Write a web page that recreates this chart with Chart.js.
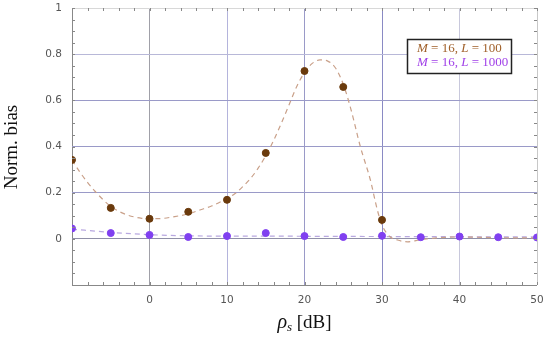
<!DOCTYPE html>
<html>
<head>
  <meta charset="UTF-8">
  <title>Norm. bias vs rho_s</title>
  <script src="https://cdn.jsdelivr.net/npm/chart.js"></script>
  <style>
    html, body { margin: 0; padding: 0; background: #fff; }
    #wrap { width: 550px; height: 344px; }
  </style>
</head>
<body>
  <div id="wrap"><canvas id="chart" width="550" height="344"></canvas></div>
  <script>
    // measured points
    const rhoL100 = [-10, -5, 0, 5, 10, 15, 20, 25, 30];
    const biasL100 = [0.342, 0.134, 0.087, 0.117, 0.169, 0.372, 0.727, 0.658, 0.082];
    const rhoL1000 = [-10, -5, 0, 5, 10, 15, 20, 25, 30, 35, 40, 45, 50];
    const biasL1000 = [0.045, 0.025, 0.017, 0.008, 0.012, 0.025, 0.012, 0.008, 0.013, 0.007, 0.010, 0.007, 0.006];

    // dashed fitted curves
    const fitRho100 = [-10, -9, -8, -7, -6, -5, -4, -3, -2, -1, 0, 1.5, 3, 5, 6.5, 8, 10, 11, 12, 13, 14, 15, 16, 17, 18, 19, 20, 21, 22, 23, 24, 25, 26, 27.2, 28.5, 29.4, 30, 31, 32, 33.3, 35, 37, 40, 45, 50];
    const fitBias100 = [0.342, 0.29, 0.245, 0.205, 0.17, 0.14, 0.12, 0.105, 0.095, 0.089, 0.087, 0.088, 0.095, 0.108, 0.125, 0.142, 0.175, 0.195, 0.225, 0.26, 0.305, 0.36, 0.425, 0.5, 0.58, 0.66, 0.72, 0.76, 0.775, 0.77, 0.74, 0.67, 0.56, 0.40, 0.255, 0.125, 0.06, 0.01, -0.005, -0.013, -0.004, 0.004, 0.008, 0.005, 0.004];
    const fitRho1000 = [-10, -5, 0, 5, 10, 15, 20, 30, 40, 50];
    const fitBias1000 = [0.042, 0.028, 0.018, 0.013, 0.012, 0.012, 0.011, 0.010, 0.009, 0.008];

    const xTicks = [-10, 0, 10, 20, 30, 40, 50];
    const yTicks = [-0.2, 0, 0.2, 0.4, 0.6, 0.8, 1];
    const legendLabels = ['M = 16, L = 100', 'M = 16, L = 1000'];

    const zip = (xs, ys) => xs.map((x, i) => ({ x, y: ys[i] }));

    // legend box + axis titles drawn on the canvas
    const decorations = {
      id: 'decorations',
      afterDraw(chart) {
        const ctx = chart.ctx;
        const area = chart.chartArea;
        ctx.save();

        // legend box
        ctx.fillStyle = '#fff';
        ctx.fillRect(407, 39, 104, 34);
        ctx.strokeStyle = '#222';
        ctx.lineWidth = 1.5;
        ctx.strokeRect(407.5, 39.5, 104, 34);
        const colors = ['#a0602a', '#a040e8'];
        legendLabels.forEach((txt, i) => {
          ctx.fillStyle = colors[i];
          let x = 417;
          const y = 52 + i * 14;
          ctx.textBaseline = 'alphabetic';
          // italic letters for M and L
          txt.split(/(M|L)/).forEach(part => {
            if (!part) return;
            ctx.font = (part === 'M' || part === 'L' ? 'italic ' : '') + '13px "Liberation Serif"';
            ctx.fillText(part, x, y);
            x += ctx.measureText(part).width;
          });
        });

        // y title
        ctx.fillStyle = '#111';
        ctx.font = '19px "Liberation Serif"';
        ctx.translate(12, 147);
        ctx.rotate(-Math.PI / 2);
        ctx.textAlign = 'center';
        ctx.textBaseline = 'middle';
        ctx.fillText('Norm. bias', 0, 0);
        ctx.setTransform(1, 0, 0, 1, 0, 0);

        // x title: rho_s [dB]
        const cx = (area.left + area.right) / 2;
        ctx.textAlign = 'left';
        ctx.textBaseline = 'alphabetic';
        ctx.font = 'italic 20px "Liberation Serif"';
        const wR = ctx.measureText('ρ').width;
        ctx.font = 'italic 13px "Liberation Serif"';
        const wS = ctx.measureText('s').width;
        ctx.font = '19px "Liberation Serif"';
        const wT = ctx.measureText(' [dB]').width;
        let x0 = cx - (wR + wS + wT) / 2;
        const by = 328;
        ctx.font = 'italic 20px "Liberation Serif"';
        ctx.fillText('ρ', x0, by);
        x0 += wR;
        ctx.font = 'italic 13px "Liberation Serif"';
        ctx.fillText('s', x0, by + 3);
        x0 += wS;
        ctx.font = '19px "Liberation Serif"';
        ctx.fillText(' [dB]', x0, by);

        // minor ticks along the frame
        const xs = chart.scales.x, ys = chart.scales.y;
        ctx.strokeStyle = '#888';
        ctx.lineWidth = 1;
        ctx.beginPath();
        for (let v = -10; v <= 50; v += 2) {
          const px = Math.round(xs.getPixelForValue(v)) + 0.5;
          ctx.moveTo(px, area.bottom); ctx.lineTo(px, area.bottom - 3);
          ctx.moveTo(px, area.top); ctx.lineTo(px, area.top + 3);
        }
        for (let v = -0.2; v <= 1.001; v += 0.05) {
          const py = Math.round(ys.getPixelForValue(v)) + 0.5;
          ctx.moveTo(area.left, py); ctx.lineTo(area.left + 3, py);
          ctx.moveTo(area.right, py); ctx.lineTo(area.right - 3, py);
        }
        ctx.stroke();
        ctx.restore();
      }
    };

    const xGridColor = v => ({ '-10': '#888', '0': '#a0a0a8', '10': '#b4b4dc', '20': '#9a9ac8', '30': '#8a8ac4', '40': '#c8c8dc', '50': '#c8c8c8' })[String(v)] || '#bbb';
    const yGridColor = v => {
      const k = Math.round(v * 10) / 10;
      if (k === -0.2) return '#888';
      if (k === 1) return '#d8d8d8';
      if (k === 0.8) return '#b8b8d8';
      if (k === 0) return '#9090a8';
      return '#9a9ac8';
    };

    new Chart(document.getElementById('chart'), {
      type: 'scatter',
      data: {
        datasets: [
          {
            label: 'fit L100',
            data: zip(fitRho100, fitBias100),
            showLine: true,
            borderColor: '#c9a089',
            borderWidth: 1.2,
            borderDash: [5, 4],
            pointRadius: 0,
            cubicInterpolationMode: 'monotone',
            order: 3
          },
          {
            label: 'fit L1000',
            data: zip(fitRho1000, fitBias1000),
            showLine: true,
            borderColor: '#b8a8e0',
            borderWidth: 1.2,
            borderDash: [5, 4],
            pointRadius: 0,
            cubicInterpolationMode: 'monotone',
            order: 3
          },
          {
            label: legendLabels[1],
            data: zip(rhoL1000, biasL1000),
            pointBackgroundColor: '#8040f0',
            pointBorderColor: '#8040f0',
            pointRadius: 3.5,
            order: 2
          },
          {
            label: legendLabels[0],
            data: zip(rhoL100, biasL100),
            pointBackgroundColor: '#6a3a0c',
            pointBorderColor: '#6a3a0c',
            pointRadius: 3.5,
            order: 1
          }
        ]
      },
      options: {
        responsive: false,
        animation: false,
        layout: { padding: { top: 8, right: 13, left: 0, bottom: 0 } },
        plugins: {
          legend: { display: false },
          tooltip: { enabled: false }
        },
        scales: {
          x: {
            type: 'linear',
            min: -10,
            max: 50,
            afterBuildTicks: s => { s.ticks = xTicks.map(v => ({ value: v })); },
            afterFit: s => { s.height = 59; s.paddingLeft = 0; s.paddingRight = 0; },
            border: { display: false },
            grid: {
              drawTicks: false,
              color: ctx => xGridColor(ctx.tick ? ctx.tick.value : 0),
              lineWidth: 1
            },
            ticks: {
              padding: 9,
              color: '#555',
              font: { family: 'DejaVu Sans', size: 10.5 },
              callback: v => (v === -10 ? '' : String(v))
            }
          },
          y: {
            type: 'linear',
            min: -0.2,
            max: 1,
            afterBuildTicks: s => { s.ticks = yTicks.map(v => ({ value: v })); },
            afterFit: s => { s.width = 72; s.paddingTop = 0; s.paddingBottom = 0; },
            border: { display: false },
            grid: {
              drawTicks: false,
              color: ctx => yGridColor(ctx.tick ? ctx.tick.value : 0),
              lineWidth: 1
            },
            ticks: {
              padding: 10,
              color: '#555',
              font: { family: 'DejaVu Sans', size: 10.5 },
              callback: v => (Math.abs(v + 0.2) < 1e-9 ? '' : String(Math.round(v * 10) / 10))
            }
          }
        }
      },
      plugins: [decorations]
    });
  </script>
</body>
</html>
